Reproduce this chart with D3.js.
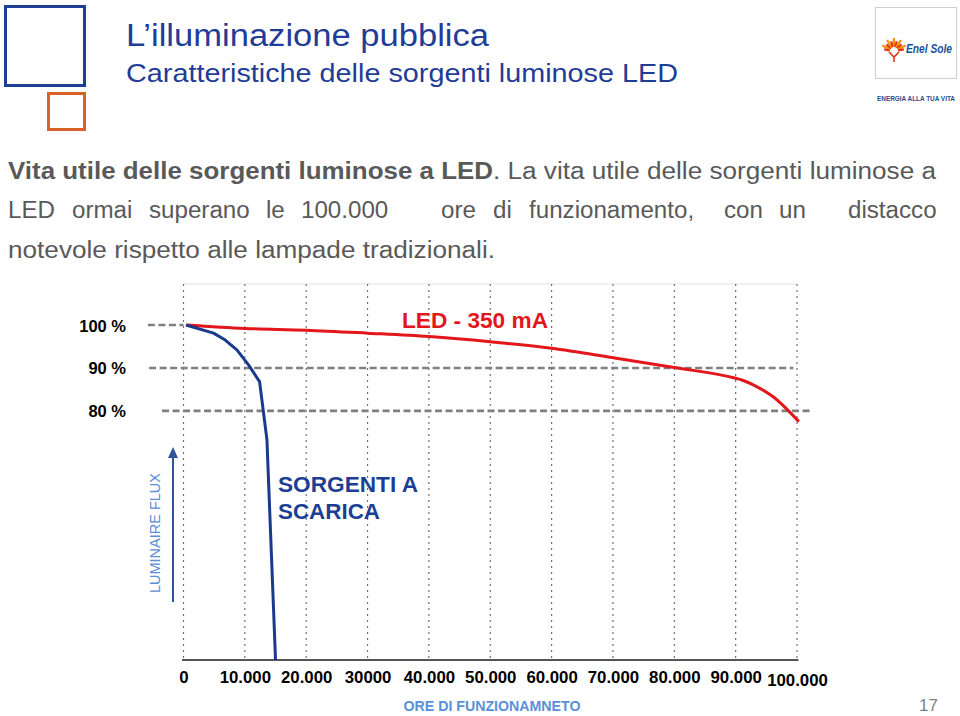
<!DOCTYPE html>
<html><head><meta charset="utf-8">
<script src="https://cdn.jsdelivr.net/npm/d3@7"></script>
<style>
body{margin:0;background:#fff}
svg{display:block}
text{font-family:"Liberation Sans",Arial,Helvetica,sans-serif}
</style>
</head><body>
<svg id="c" width="960" height="716"></svg>
<script>
// ---------- data ----------
const hourTicks = [0,10000,20000,30000,40000,50000,60000,70000,80000,90000,100000];
const tickLabels = ["0","10.000","20.000","30000","40.000","50.000","60.000","70.000","80.000","90.000","100.000"];

const ledHours = [500,10000,20000,30000,40000,50000,60000,70000,80000,90000,91000,93500,96000,100300];
const ledFlux  = [100,99.2,98.8,98.1,97.3,96.1,94.6,92.4,90.1,87.6,87.2,85.6,83.4,77.5];

const dischargeHours = [400,4900,6800,8700,10600,12400,13600,15000];
const dischargeFlux  = [100,98.1,96.5,94.2,90.7,86.8,73.3,22];

const refLevels = [100,90,80];
const refLabels = ["100 %","90 %","80 %"];
const refFrom   = [-5800,-5600,-3500];
const refTo     = [0,99400,102500];

const bodyLine2 = ["LED","ormai","superano","le","100.000","ore","di","funzionamento,","con","un","distacco"];
const bodyLine2X = [8,72,149,266,301,441,493,529,724,779,848];

// ---------- setup ----------
const svg = d3.select("#c");
svg.append("rect").attr("width",960).attr("height",716).attr("fill","#fff");

function txt(parent, s, x, y, o){
  const t = parent.append("text").attr("x",x).attr("y",y).text(s)
    .attr("font-size",o.size).attr("fill",o.fill||"#000");
  if(o.weight) t.attr("font-weight",o.weight);
  if(o.style) t.attr("font-style",o.style);
  if(o.anchor) t.attr("text-anchor",o.anchor);
  if(o.w) t.attr("textLength",o.w).attr("lengthAdjust","spacingAndGlyphs");
  if(o.k){ const L=t.node().getComputedTextLength(); t.attr("textLength",L*o.k).attr("lengthAdjust","spacingAndGlyphs"); }
  return t;
}

// ---------- header ----------
svg.append("rect").attr("x",5.5).attr("y",6.5).attr("width",79).attr("height",79)
  .attr("fill","none").attr("stroke","#1f3f94").attr("stroke-width",3);
svg.append("rect").attr("x",48.5).attr("y",93.5).attr("width",36).attr("height",36)
  .attr("fill","none").attr("stroke","#d9622b").attr("stroke-width",3);

txt(svg,"L\u2019illuminazione pubblica",126,46,{size:31,fill:"#1f3c96",w:363});
txt(svg,"Caratteristiche delle sorgenti luminose LED",126,82,{size:25,fill:"#1f3c96",w:552});

// logo
const logo = svg.append("g");
logo.append("rect").attr("x",875.5).attr("y",7.5).attr("width",81).attr("height",71)
  .attr("fill","#fff").attr("stroke","#cfcfcf");
const sunC=[894,51];
d3.range(11).forEach(i=>{
  const a = Math.PI*(1.05 + i*0.09);
  logo.append("line")
    .attr("x1",sunC[0]+Math.cos(a)*4).attr("y1",sunC[1]+Math.sin(a)*4)
    .attr("x2",sunC[0]+Math.cos(a)*(10+(i%2)*3)).attr("y2",sunC[1]+Math.sin(a)*(10+(i%2)*3))
    .attr("stroke", i%2? "#f39200":"#e2341a").attr("stroke-width",2.2);
});
logo.append("path").attr("d",`M${sunC[0]-5},${sunC[1]+1} L${sunC[0]},${sunC[1]+6} L${sunC[0]+5},${sunC[1]+1} M${sunC[0]},${sunC[1]+6} L${sunC[0]},${sunC[1]+11}`)
  .attr("fill","none").attr("stroke","#e2341a").attr("stroke-width",1.6);
txt(logo,"Enel Sole",906,53,{size:12,weight:"bold",style:"italic",fill:"#1d4f9c",w:46});
txt(logo,"ENERGIA ALLA TUA VITA",877,101,{size:6.5,weight:"bold",fill:"#2f4a8a",w:78});

// ---------- body text ----------
const bodyFill="#595959";
txt(svg,"Vita utile delle sorgenti luminose a LED",8,179,{size:23,weight:"bold",fill:bodyFill,w:485});
txt(svg,". La vita utile delle sorgenti luminose a",493,179,{size:23,fill:bodyFill,w:443});
txt(svg,"notevole rispetto alle lampade tradizionali.",8,258,{size:23,fill:bodyFill,w:487});
bodyLine2.forEach((w,i)=> txt(svg,w,bodyLine2X[i],218,{size:23,fill:bodyFill,k:1.05}));

// ---------- chart ----------
const x = d3.scaleLinear().domain([0,100000]).range([183.5,797]);
const y = d3.scaleLinear().domain([22,100]).range([660,325]);
const gridTop = 284;

const g = svg.append("g");
g.append("line").attr("x1",x(0)).attr("x2",x(100000)).attr("y1",gridTop).attr("y2",gridTop)
  .attr("stroke","#e2e2e2").attr("stroke-width",1);

g.selectAll("line.grid").data(hourTicks).join("line").attr("class","grid")
  .attr("x1",d=>x(d)).attr("x2",d=>x(d)).attr("y1",gridTop).attr("y2",y.range()[0])
  .attr("stroke","#6f6f6f").attr("stroke-width",1.2).attr("stroke-dasharray","2,4");

g.selectAll("line.ref").data(refLevels).join("line").attr("class","ref")
  .attr("x1",(d,i)=>x(refFrom[i])).attr("x2",(d,i)=>x(refTo[i]))
  .attr("y1",d=>y(d)).attr("y2",d=>y(d))
  .attr("stroke","#7f7f7f").attr("stroke-width",2.6).attr("stroke-dasharray","7,3.5");

g.selectAll("text.ref").data(refLevels).join("text").attr("class","ref")
  .attr("x",126).attr("y",d=>y(d)+6.5).attr("text-anchor","end")
  .attr("font-size",16.5).attr("font-weight","bold").attr("fill","#000")
  .text((d,i)=>refLabels[i]);

// axis
const axis = d3.axisBottom(x).tickValues(hourTicks).tickFormat((d,i)=>tickLabels[i])
  .tickSize(0).tickPadding(12);
const ax = g.append("g").attr("transform",`translate(0,${y.range()[0]})`).call(axis);
ax.select(".domain").attr("stroke","#555").attr("stroke-width",2)
  .attr("d",`M${x(0)-1.5},0H${x(100000)+1.5}`);
ax.selectAll(".tick text").attr("font-size",16).attr("font-weight","bold").attr("fill","#000")
  .attr("font-family",'"Liberation Sans",Arial,sans-serif')
  .attr("dy",(d,i)=> i===hourTicks.length-1 ? "0.9em" : "0.71em")
  .each(function(){
    const L=this.getComputedTextLength();
    d3.select(this).attr("textLength",L*1.05).attr("lengthAdjust","spacingAndGlyphs");
  });

// curves
const line = d3.line().x(d=>x(d[0])).y(d=>y(d[1]));
g.append("path").datum(ledHours.map((h,i)=>[h,ledFlux[i]]))
  .attr("d",line.curve(d3.curveMonotoneX)).attr("fill","none")
  .attr("stroke","#e3161c").attr("stroke-width",3).attr("stroke-linejoin","round");
g.append("path").datum(dischargeHours.map((h,i)=>[h,dischargeFlux[i]]))
  .attr("d",d3.line().x(d=>x(d[0])).y(d=>y(d[1])).curve(d3.curveLinear)).attr("fill","none")
  .attr("stroke","#1a3a8c").attr("stroke-width",3).attr("stroke-linejoin","round");

// annotations
txt(g,"LED - 350 mA",402,328,{size:22,weight:"bold",fill:"#e3161c",w:146});
txt(g,"SORGENTI A",278,492,{size:22,weight:"bold",fill:"#1c3f94",w:140});
txt(g,"SCARICA",278,519,{size:22,weight:"bold",fill:"#1c3f94",w:102});

// luminaire flux arrow
g.append("line").attr("x1",173).attr("x2",173).attr("y1",602).attr("y2",456)
  .attr("stroke","#2e54a0").attr("stroke-width",2);
g.append("path").attr("d","M173,447 L168,458 L178,458 Z").attr("fill","#2e54a0");
g.append("text").attr("transform","translate(160,533) rotate(-90)")
  .attr("text-anchor","middle").attr("font-size",14).attr("fill","#5b8fd6")
  .attr("textLength",120).attr("lengthAdjust","spacingAndGlyphs")
  .text("LUMINAIRE FLUX");

txt(svg,"ORE DI FUNZIONAMNETO",492,711,{size:14,weight:"bold",fill:"#5b8fd6",anchor:"middle",w:177});
txt(svg,"17",938,711,{size:17,fill:"#7f7f7f",anchor:"end"});
</script>
</body></html>
